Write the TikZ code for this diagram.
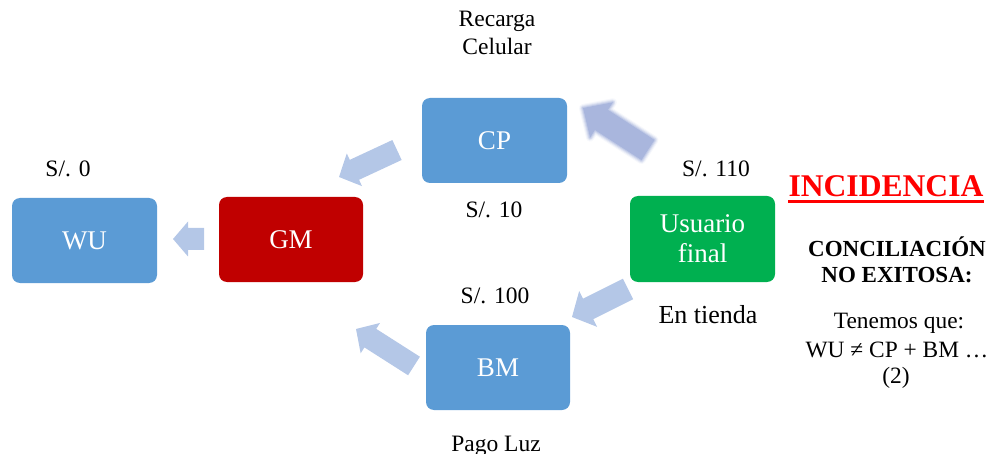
\documentclass[tikz,border=0pt]{standalone}
\usepackage{fontspec}
\setmainfont{Liberation Serif}
\usetikzlibrary{calc}

\definecolor{boxblue}{HTML}{5B9BD5}
\definecolor{boxred}{HTML}{C00000}
\definecolor{boxgreen}{HTML}{00B050}
\definecolor{arrlight}{HTML}{B4C7E7}
\definecolor{arrsoft}{HTML}{A9B6DD}
\definecolor{alert}{HTML}{FF0000}

% block arrow: #1 tail, #2 tip, #3 shaft half width, #4 head half width,
% #5 head length, #6 path options
\newcommand\blockarr[6]{%
  \coordinate (hb) at ($(#2)!#5!(#1)$);
  \path[#6] ($(#1)!#3!90:(#2)$) -- ($(hb)!#3!90:(#2)$) -- ($(hb)!#4!90:(#2)$)
    -- (#2) -- ($(hb)!#4!-90:(#2)$) -- ($(hb)!#3!-90:(#2)$)
    -- ($(#1)!#3!-90:(#2)$) -- cycle;
}

\tikzset{
  card/.style={rounded corners=8pt, minimum width=145pt, minimum height=85pt,
    text=white, align=center, inner sep=2pt,
    font=\fontsize{27}{30}\selectfont},
  lbl/.style={anchor=base, inner sep=0pt, font=\fontsize{23.5}{28}\selectfont},
  side/.style={anchor=base, inner sep=0pt},
}

\begin{document}
\begin{tikzpicture}[x=1pt, y=-1pt]
\useasboundingbox (0,0) rectangle (998,454);

% boxes
\node[card, fill=boxblue] (wu) at (84.5,240.5) {WU};
\node[card, fill=boxred, minimum width=144pt] (gm) at (291,239.5) {GM};
\node[card, fill=boxblue] (cp) at (494.5,140.5) {CP};
\node[card, fill=boxgreen, minimum height=86pt] (uf) at (702.5,239) {Usuario\\final};
\node[card, fill=boxblue, minimum width=144pt] (bm) at (498,367.5) {BM};

% labels
\node[lbl] (rec) at (497,27) {Recarga};
\node[lbl] (cel) at (497,55) {Celular};
\node[lbl] (s0) at (68,177) {S/. 0};
\node[lbl] (s10) at (494,218) {S/. 10};
\node[lbl] (s110) at (716,177) {S/. 110};
\node[lbl] (s100) at (495,303) {S/. 100};
\node[lbl, font=\fontsize{26}{30}\selectfont] (tienda) at (708,323) {En tienda};
\node[lbl] (luz) at (496,451) {Pago Luz};

% arrow end points
\coordinate (a1s) at (204,239);   \coordinate (a1e) at (173,239);
\coordinate (a2s) at (397,150);   \coordinate (a2e) at (339,177);
\coordinate (a3s) at (648,150);   \coordinate (a3e) at (583,108);
\coordinate (a4s) at (628,289);   \coordinate (a4e) at (572,317);
\coordinate (a5s) at (414,366);   \coordinate (a5e) at (356,329);

% arrows
\blockarr{a1s}{a1e}{11pt}{17.5pt}{15pt}{fill=arrlight}
\blockarr{a2s}{a2e}{11pt}{18pt}{17pt}{fill=arrlight}
\blockarr{a4s}{a4e}{11.5pt}{20pt}{18pt}{fill=arrlight}
\blockarr{a5s}{a5e}{11pt}{18pt}{17pt}{fill=arrlight}

% soft-edged arrow towards CP
\foreach \lw/\op in {8/0.1, 6/0.18, 4/0.3, 2/0.45}{
  \blockarr{a3s}{a3e}{12pt}{21pt}{22pt}{draw=arrsoft, line width=\lw pt,
    draw opacity=\op, line join=round}
}
\blockarr{a3s}{a3e}{12pt}{21pt}{22pt}{fill=arrsoft}

% side notes
\node[side, text=alert, font=\fontsize{31.6}{36}\bfseries] (inc) at (886,197) {INCIDENCIA};
\draw[alert, line width=3pt] ($(inc.base west)+(0,5)$) -- ($(inc.base east)+(0,5)$);
\node[side, font=\fontsize{23}{26}\bfseries] (conc) at (897,257) {CONCILIACIÓN};
\node[side, font=\fontsize{23}{26}\bfseries] (noex) at (897,283) {NO EXITOSA:};
\node[side, font=\fontsize{23.4}{28}\selectfont] (ten) at (899,328) {Tenemos que:};
\node[side, font=\fontsize{23.4}{28}\selectfont] (eq) at (897,357) {WU ≠ CP + BM …};
\node[side, font=\fontsize{23.4}{28}\selectfont] (num) at (896,383) {(2)};
\end{tikzpicture}
\end{document}
